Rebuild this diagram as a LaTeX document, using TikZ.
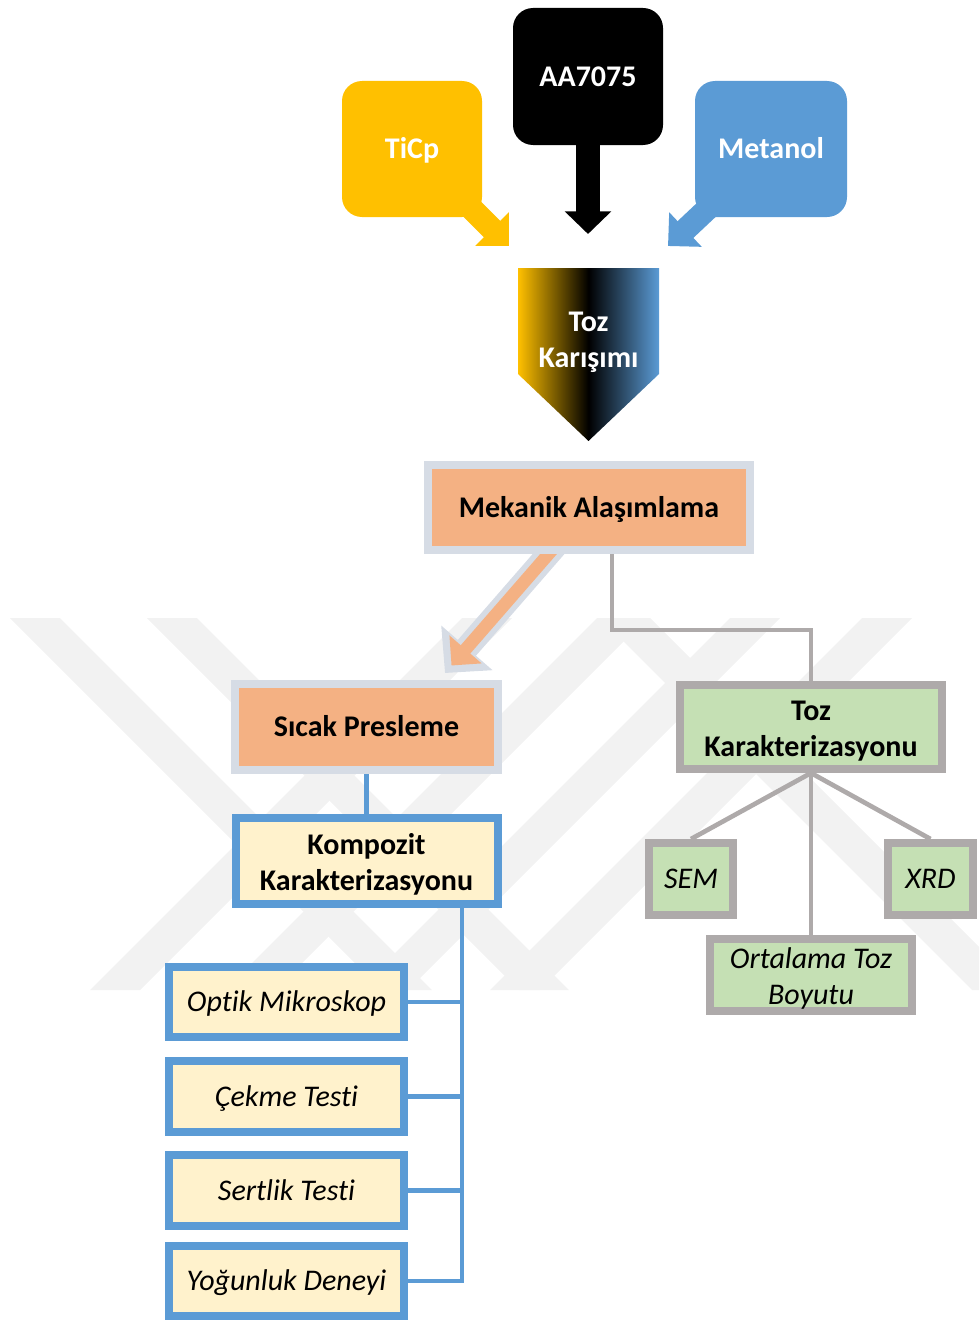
\documentclass[tikz,border=0pt]{standalone}
\usepackage{fontspec}
\setmainfont[Ligatures=NoCommon]{Carlito}
\usepackage{tikz}
\usetikzlibrary{arrows.meta}
\usetikzlibrary{backgrounds}

\definecolor{jaune}{HTML}{FFC000}
\definecolor{bleuoffice}{HTML}{5B9BD5}
\definecolor{orangeclair}{HTML}{F4B183}
\definecolor{grisbleu}{HTML}{D6DCE5}
\definecolor{creme}{HTML}{FFF2CC}
\definecolor{vertclair}{HTML}{C5E0B4}
\definecolor{grismoyen}{HTML}{AEAAAA}
\definecolor{filigrane}{HTML}{F2F2F2}

\newcommand{\policegras}{\fontsize{22.5}{26.5}\selectfont\bfseries}
\newcommand{\policeitalique}{\fontsize{22.5}{27}\selectfont\itshape}

\begin{document}
\begin{tikzpicture}[x=0.75pt,y=-0.75pt]
% définition des styles
\tikzstyle uneligne=[text height=16.9pt,text depth=2.25pt]
\tikzstyle deuxlignes=[align=center,text height=45.5pt,text depth=1.7pt]
\tikzstyle boitehaut=[rectangle,rounded corners=15pt,inner sep=0pt,text=white,font=\policegras,uneligne]
\tikzstyle boiteorange=[rectangle,draw=grisbleu,fill=orangeclair,line width=6pt,inner sep=0pt,font=\policegras,uneligne]
\tikzstyle boitecreme=[rectangle,draw=bleuoffice,fill=creme,line width=6pt,inner sep=0pt]
\tikzstyle boiteverte=[rectangle,draw=grismoyen,fill=vertclair,line width=6pt,inner sep=0pt]
\tikzstyle lienbleu=[draw=bleuoffice,line width=3.5pt]
\tikzstyle liengris=[draw=grismoyen,line width=3.5pt]
\tikzstyle bandefiligrane=[fill=filigrane]

% le cadre
\useasboundingbox (0,0) rectangle (979,1320);

% les trois produits
\node[boitehaut,fill=jaune,minimum width=105pt,minimum height=102pt] (ticp) at (412,149) {TiCp};
\node[boitehaut,fill=black,minimum width=112.5pt,minimum height=102.75pt] (aa) at (588,76.5) {AA7075};
\node[boitehaut,fill=bleuoffice,minimum width=114pt,minimum height=102pt] (metanol) at (771,149) {Metanol};
\coordinate (pointeticp) at (509,246);
\coordinate (pointeaa) at (588,234);
\coordinate (pointemetanol) at (668,246);

% le mélange
\shade[left color=jaune,right color=bleuoffice,middle color=black] (518,268) -- (659,268) -- (659,374) -- (588.5,441) -- (518,374) -- cycle;
\node[deuxlignes,inner sep=0pt,text=white,font=\policegras] (karisim) at (588.5,338) {Toz\\Karışımı};

% les étapes
\node[boiteorange,minimum width=241.5pt,minimum height=63.75pt] (mekanik) at (589,507.5) {Mekanik Alaşımlama};
\node[boiteorange,minimum width=197.25pt,minimum height=64.5pt] (sicak) at (366.5,727) {Sıcak Presleme};
\node[boitecreme,deuxlignes,minimum width=196.5pt,minimum height=64.5pt,font=\policegras] (kompozit) at (366.5,861) {Kompozit\\Karakterizasyonu};
\node[boiteverte,deuxlignes,minimum width=196.5pt,minimum height=63pt,font=\policegras] (tozkar) at (811,727) {Toz\\Karakterizasyonu};
\coordinate (pointesicak) at (445,673);
\coordinate (pointeinterne) at (451.5,665.5);
\coordinate (coude) at (612,630);
\coordinate (bus) at (462,0);

% les essais
\node[boitecreme,uneligne,minimum width=176.25pt,minimum height=52.5pt,font=\policeitalique] (optik) at (286.5,1002) {Optik Mikroskop};
\node[boitecreme,uneligne,minimum width=176.25pt,minimum height=53.25pt,font=\policeitalique] (cekme) at (286.5,1096.5) {Çekme Testi};
\node[boitecreme,uneligne,minimum width=176.25pt,minimum height=53.25pt,font=\policeitalique] (sertlik) at (286.5,1190.5) {Sertlik Testi};
\node[boitecreme,uneligne,minimum width=176.25pt,minimum height=52.5pt,font=\policeitalique] (yogunluk) at (286.5,1281) {Yoğunluk Deneyi};
\node[boiteverte,uneligne,minimum width=63pt,minimum height=54pt,font=\policeitalique] (sem) at (691,879) {SEM};
\node[boiteverte,uneligne,minimum width=63.75pt,minimum height=54pt,font=\policeitalique] (xrd) at (930.5,879) {XRD};
\node[boiteverte,deuxlignes,minimum width=151.5pt,minimum height=54pt,font=\policeitalique] (ortalama) at (811,975) {Ortalama Toz\\Boyutu};

\begin{scope}[on background layer]
% le filigrane
\begin{scope}
\clip (0,618) rectangle (979,990);
\foreach \xa in {10,147,600}
    \fill[bandefiligrane] (\xa,618) -- (\xa+50,618) -- (\xa+422,990) -- (\xa+372,990) -- cycle;
\foreach \xb in {90,225,358,490}
    \fill[bandefiligrane] (\xb,990) -- (\xb+50,990) -- (\xb+422,618) -- (\xb+372,618) -- cycle;
\end{scope}
% les flèches
\draw[jaune,line width=17.25pt,-{Triangle[length=18pt,width=34.5pt]}] (ticp.center) -- (pointeticp);
\draw[black,line width=18pt,-{Triangle[length=17pt,width=34pt]}] (aa.center) -- (pointeaa);
\draw[bleuoffice,line width=17.25pt,-{Triangle[length=18pt,width=34.5pt]}] (metanol.center) -- (pointemetanol);
\draw[grisbleu,line width=18pt,-{Triangle[length=25pt,width=49.5pt]}] (mekanik.center) -- (pointesicak);
\draw[orangeclair,line width=9.5pt,-{Triangle[length=16pt,width=31pt]}] (mekanik.center) -- (pointeinterne);
% les liens
\draw[liengris] (coude |- mekanik.center) -- (coude) -| (tozkar.center);
\draw[lienbleu] (sicak) -- (kompozit);
\draw[lienbleu] (bus |- kompozit.center) -- (bus |- yogunluk) -- (yogunluk);
\foreach \t in {optik,cekme,sertlik}
    \draw[lienbleu] (bus |- \t) -- (\t);
\draw[liengris] (tozkar.south) -- (sem.north);
\draw[liengris] (tozkar.south) -- (xrd.north);
\draw[liengris] (tozkar.south) -- (ortalama.north);
\end{scope}
\end{tikzpicture}
\end{document}
